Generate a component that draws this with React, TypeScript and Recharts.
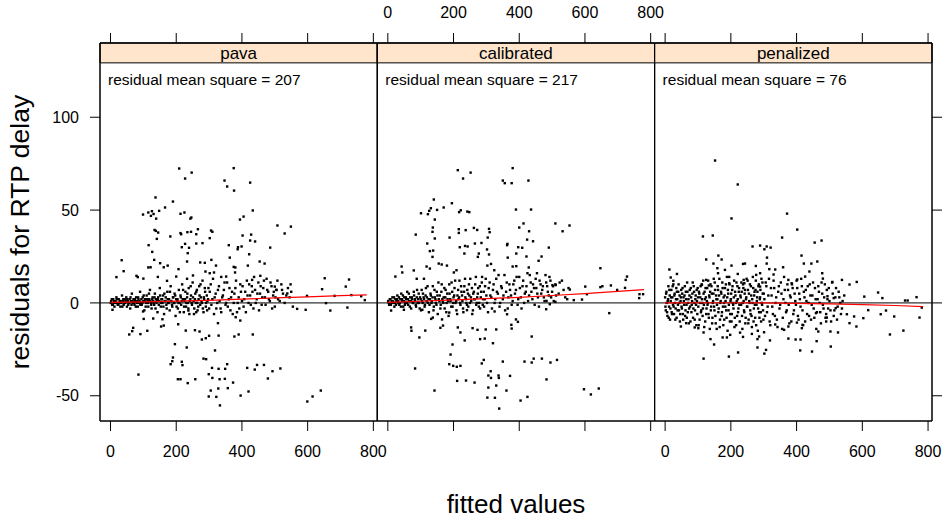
import React from 'react';
import { ScatterChart, Scatter, XAxis, YAxis, ReferenceLine, ReferenceArea } from 'recharts';

const W = 946;
const H = 523;
const X_DOMAIN: [number, number] = [-32, 812];
const Y_DOMAIN: [number, number] = [-63.6, 140];
const STRIP_BOTTOM = 129.3;
const xTicks = [0, 200, 400, 600, 800];
const yTicks = [-50, 0, 50, 100];

type Pt = [number, number];

const panelNames = ['pava', 'calibrated', 'penalized'];
const rmsLabels = ['residual mean square = 207', 'residual mean square = 217', 'residual mean square = 76'];

const pavaPoints: Pt[] = [
  [209, 72.4], [247, 70.2], [227, 67.0], [375, 72.6], [347, 65.9], [355, 62.7], [376, 60.5], [425, 64.8],
  [137, 56.8], [190, 54.6], [166, 51.4], [99, 47.6], [115, 48.7], [126, 49.4], [123, 46.9], [131, 47.9],
  [139, 45.4], [148, 49.6], [213, 48.0], [225, 48.7], [243, 45.4], [246, 46.0], [433, 49.8], [405, 46.5],
  [394, 44.9], [508, 41.7], [549, 41.1], [530, 37.4], [134, 39.3], [138, 38.8], [145, 37.9], [141, 34.5],
  [182, 35.8], [213, 37.6], [215, 37.0], [234, 38.1], [245, 38.3], [266, 39.7], [306, 39.0], [310, 38.3],
  [261, 37.0], [302, 34.9], [402, 36.3], [428, 36.8], [425, 33.6], [440, 33.1], [280, 32.2], [261, 32.0],
  [227, 31.8], [217, 30.0], [239, 29.7], [116, 31.1], [127, 27.5], [133, 23.2], [122, 19.2], [115, 19.1],
  [151, 21.4], [162, 19.2], [174, 20.1], [207, 18.2], [233, 22.3], [235, 26.8], [273, 21.8], [287, 21.6],
  [307, 23.2], [321, 20.1], [360, 31.1], [363, 24.4], [387, 28.9], [388, 30.0], [399, 30.4], [422, 26.2],
  [486, 29.8], [454, 22.3], [469, 21.2], [418, 20.1], [375, 19.4], [380, 19.1], [34, 23.0], [40, 17.1],
  [18, 13.9], [79, 14.6], [83, 13.9], [100, 13.1], [144, 14.0], [172, 11.9], [200, 14.2], [233, 13.0],
  [251, 14.8], [289, 16.9], [302, 16.0], [315, 16.4], [337, 14.0], [352, 14.2], [379, 16.4], [431, 12.4],
  [456, 14.6], [652, 13.3], [726, 12.6], [716, 8.8], [644, 7.4], [538, 5.1], [598, 3.8], [682, 3.8],
  [733, 4.2], [763, 3.6], [774, 1.5], [500, 8.8], [505, 7.0],
  [57, -17.0], [69, -13.4], [66, -15.2], [91, -16.8], [112, -15.0], [85, -38.6], [101, -8.6], [130, -8.4],
  [154, -12.7], [162, -12.2], [196, -22.2], [206, -11.5], [229, -14.9], [232, -24.0], [190, -29.4], [188, -31.4],
  [183, -33.0], [217, -31.7], [219, -33.5], [205, -41.1], [213, -41.1], [235, -43.2], [258, -41.1], [257, -14.7],
  [271, -15.4], [278, -19.7], [290, -19.0], [300, -17.7], [283, -30.0], [291, -30.3], [318, -25.6], [329, -17.6],
  [299, -38.4], [310, -40.4], [309, -35.0], [329, -35.5], [349, -35.5], [355, -33.0], [332, -41.1], [348, -40.9],
  [305, -47.2], [299, -50.4], [322, -50.6], [328, -46.1], [357, -45.9], [373, -42.9], [333, -55.2], [396, -49.9],
  [420, -47.7], [377, -18.1], [390, -17.0], [433, -17.0], [416, -35.0], [439, -35.9], [446, -33.4], [467, -33.4],
  [493, -36.8], [479, -40.7], [517, -35.3], [599, -53.1], [615, -50.4], [640, -47.2], [381, -7.7], [395, -9.5],
  [327, -10.9], [158, -8.8], [99, -4.6], [237, -4.1], [261, -5.0], [568, -3.2], [594, -3.7], [669, -4.1],
  [721, -2.5], [656, -0.1], [6, -3.7],
];

const pavaBand: Pt[] = [
  [2, 1], [5, -1], [8, 2], [10, 0], [12, -2], [15, 1], [18, 3], [20, 0], [22, -1], [25, 2], [28, 1], [30, -2],
  [33, 0], [35, 4], [38, 1], [40, -1], [43, 2], [45, 0], [48, 3], [50, -2], [53, 1], [55, 0], [58, 2], [60, -3],
  [63, 1], [65, 5], [68, 0], [70, 2], [73, -1], [75, 1], [78, 3], [80, 0], [83, -2], [85, 2], [88, 1], [90, 6],
  [93, 0], [95, -1], [98, 3], [100, 1], [103, -4], [105, 2], [108, 0], [110, 4], [113, 1], [115, -2], [118, 2],
  [120, 7], [123, 0], [125, -3], [128, 3], [130, 1], [133, -1], [135, 5], [138, 2], [140, 0], [143, -5], [145, 3],
  [148, 1], [150, 8], [153, -2], [155, 2], [158, 0], [160, 4], [163, -6], [165, 1], [168, 3], [170, -1], [173, 6],
  [175, 0], [178, 2], [180, -4], [183, 9], [185, 1], [188, -2], [190, 3], [193, 0], [195, 5], [198, -7], [200, 2],
  [203, 1], [205, -3], [208, 7], [210, 0], [213, 4], [215, -1], [218, 10], [220, 2], [223, -5], [225, 1], [228, 6],
  [230, -2], [233, 3], [235, 0], [238, 8], [240, -6], [243, 2], [245, 4], [248, -1], [250, 11], [253, 1], [255, -3],
  [258, 5], [260, 0], [263, 7], [265, -4], [268, 2], [270, 9], [273, -1], [275, 3], [278, 0], [280, 12], [283, -5],
  [285, 2], [288, 6], [290, -2], [293, 4], [295, 1], [298, 8], [300, -3], [305, 10], [310, 2], [315, -6], [320, 5],
  [325, 0], [330, 9], [335, -3], [340, 3], [345, 7], [350, -1], [355, 11], [360, 2], [365, -4], [370, 6], [375, 0],
  [380, 8], [385, -5], [390, 3], [395, 10], [400, 1], [405, -2], [410, 6], [415, 12], [420, 0], [425, 4], [430, 9],
  [435, -3], [440, 7], [445, 2], [450, 11], [455, 5], [460, -1], [465, 8], [470, 3], [475, 13], [480, 6], [485, 1],
  [490, 9], [495, 4], [500, -2], [505, 7], [510, 2], [520, 10], [525, 5], [530, 0], [540, 8], [545, 3], [550, 6],
  [1, 0], [4, 2], [7, -1], [11, 1], [16, 0], [19, 2], [24, -1], [27, 0], [31, 1], [36, -2], [39, 2], [42, 0],
  [46, 1], [51, 2], [54, -1], [57, 0], [61, 3], [64, -1], [67, 1], [71, 0], [74, 2], [77, -2], [81, 1], [84, 3],
  [87, 0], [91, -1], [94, 2], [97, 0], [101, 4], [104, 1], [107, -2], [111, 2], [114, 0], [117, 5], [121, 1],
  [124, -1], [127, 2], [131, 0], [134, 3], [137, -3], [141, 1], [144, 2], [147, -1], [151, 4], [154, 0], [157, 2],
  [161, -2], [164, 5], [167, 1], [171, -3], [174, 2], [177, 0], [181, 6], [184, 1], [187, -1], [191, 3], [194, 0],
  [197, 4], [201, -2], [204, 2], [207, 0], [211, -5], [214, 3], [217, 1], [221, 7], [224, -2], [227, 2], [231, 0],
  [234, 5], [237, -3], [241, 1], [244, 9], [247, 0], [251, 3], [254, -6], [257, 2], [261, 6], [264, 0], [267, -2],
  [271, 4], [274, 10], [277, 1], [281, -3], [284, 3], [287, 8], [291, 0], [294, -4], [297, 2], [302, 6], [307, -1],
  [312, 13], [317, 3], [322, -3], [327, 7], [332, 1], [337, -5], [342, 4], [347, 11], [352, 0], [357, -2], [362, 8],
  [367, 3], [372, -6], [377, 5], [382, 12], [387, 0], [392, -3], [397, 6], [402, 9], [407, 2], [412, -5], [417, 4],
  [422, 10], [427, -1], [432, 6], [437, 14], [442, 0], [447, 5], [452, -4], [457, 9], [462, 3], [467, 12], [472, -1],
  [477, 7], [482, 2], [487, 11], [492, -3], [497, 6], [502, 3], [508, 12], [515, 1], [522, 7], [535, 4], [548, 10],
  [555, -2],
];

const calibratedPoints: Pt[] = [
  [213, 71.5], [252, 70.2], [229, 67.0], [380, 72.6], [350, 65.9], [356, 64.5], [377, 64.5], [428, 65.9],
  [140, 55.7], [195, 53.7], [170, 51.4], [101, 48.3], [122, 47.8], [126, 49.6], [131, 51.0], [150, 50.1],
  [143, 44.9], [222, 49.9], [217, 48.9], [242, 49.2], [248, 48.9], [390, 50.3], [436, 50.3], [413, 42.8],
  [400, 40.6], [510, 42.8], [553, 41.7], [532, 38.6], [85, 36.8], [137, 40.6], [136, 38.3], [143, 34.7],
  [188, 35.2], [216, 39.7], [216, 37.7], [237, 39.2], [262, 40.4], [272, 39.3], [308, 39.9], [310, 38.1],
  [304, 35.2], [430, 38.6], [424, 34.1], [442, 33.2], [285, 32.3], [265, 32.0], [235, 30.7], [219, 30.0],
  [243, 30.4], [120, 32.0], [128, 27.9], [138, 28.2], [136, 24.8], [155, 21.2], [164, 20.7], [180, 20.1],
  [128, 18.5], [118, 19.6], [233, 26.6], [274, 24.8], [277, 26.6], [302, 28.8], [308, 26.1], [364, 31.8],
  [363, 31.1], [365, 24.4], [391, 26.6], [397, 30.0], [409, 29.7], [422, 25.0], [468, 25.0], [459, 22.7],
  [490, 29.8], [380, 19.6], [391, 19.8], [429, 19.1], [454, 16.0], [303, 20.1], [314, 21.0], [324, 17.6],
  [209, 17.6], [201, 16.4], [42, 19.6], [44, 16.4], [23, 14.2], [79, 17.5], [88, 13.0], [110, 13.0],
  [647, 18.7], [728, 14.2], [724, 12.4], [679, 9.4], [653, 9.0], [647, 8.5], [601, 8.8], [554, 7.2],
  [501, 9.6], [511, 9.6], [698, 7.0], [722, 8.1], [766, 4.7], [777, 4.7], [765, 2.6], [566, 1.5],
  [591, 1.8], [606, 4.7], [483, 1.1], [493, -0.7],
  [71, -13.2], [72, -15.0], [96, -18.6], [114, -14.9], [83, -35.3], [142, -47.2], [137, -7.9], [132, -8.6],
  [160, -13.4], [165, -8.9], [168, -12.2], [187, -5.2], [197, -22.4], [191, -27.8], [187, -33.0], [199, -33.9],
  [210, -34.4], [221, -33.9], [211, -42.0], [238, -41.8], [264, -42.9], [213, -13.2], [221, -15.9], [234, -20.2],
  [258, -13.6], [273, -14.5], [298, -14.3], [281, -19.5], [295, -19.2], [292, -30.7], [286, -32.6], [320, -21.7],
  [330, -14.3], [306, -39.1], [313, -36.8], [314, -40.4], [337, -39.1], [338, -40.4], [350, -31.6], [372, -39.3],
  [361, -47.2], [330, -44.5], [306, -45.6], [303, -51.0], [326, -51.1], [339, -56.9], [404, -52.6], [425, -50.6],
  [376, -11.8], [377, -13.8], [390, -8.9], [396, -10.2], [363, -6.1], [438, -18.1], [416, -31.6], [438, -32.1],
  [444, -30.0], [469, -30.0], [495, -32.1], [515, -30.7], [483, -41.2], [597, -46.5], [618, -49.3], [642, -46.1],
  [674, -5.5], [482, -3.4], [510, 0.6], [10, -4.1], [49, -3.7], [105, -3.7], [241, -3.9], [325, -4.6],
];

const calibratedBand: Pt[] = [
  [3, 0], [6, 2], [9, -1], [12, 1], [14, 3], [17, 0], [20, -2], [23, 2], [26, 1], [29, 4], [32, 0], [35, -1],
  [38, 2], [41, 5], [44, 1], [47, -2], [50, 3], [53, 0], [56, 2], [59, 6], [62, -1], [65, 1], [68, 3], [71, -3],
  [74, 2], [77, 0], [80, 4], [83, 1], [86, -2], [89, 7], [92, 2], [95, 0], [98, 3], [101, -4], [104, 1], [107, 5],
  [110, 2], [113, -1], [116, 8], [119, 3], [122, 0], [125, -5], [128, 2], [131, 4], [134, 1], [137, 9], [140, -2],
  [143, 3], [146, 0], [149, 6], [152, -6], [155, 2], [158, 4], [161, -1], [164, 10], [167, 1], [170, 3], [173, -3],
  [176, 7], [179, 0], [182, 2], [185, -7], [188, 5], [191, 1], [194, 11], [197, -2], [200, 3], [203, 8], [206, 0],
  [209, -4], [212, 4], [215, 2], [218, 12], [221, -1], [224, 6], [227, 1], [230, -5], [233, 9], [236, 3], [239, 0],
  [242, 7], [245, -2], [248, 4], [251, 13], [254, 1], [257, -6], [260, 5], [263, 2], [266, 10], [269, -1], [272, 3],
  [275, 8], [278, 0], [281, -3], [284, 6], [287, 14], [290, 2], [293, -2], [296, 9], [300, 4], [305, -5], [310, 11],
  [315, 3], [320, 7], [325, 0], [330, 13], [335, 5], [340, -2], [345, 9], [350, 2], [355, 15], [360, 6], [365, -3],
  [370, 10], [375, 4], [380, 1], [385, 12], [390, 7], [395, -1], [400, 14], [405, 3], [410, 9], [415, 0], [420, 6],
  [425, 16], [430, 4], [435, 11], [440, 2], [445, 8], [450, 13], [455, 5], [460, -2], [465, 10], [470, 7], [475, 3],
  [480, 15], [485, 9], [490, 4], [495, 12], [500, 6], [505, 1], [510, 10], [520, 5], [530, 12], [540, 3], [550, 8],
  [1, 1], [4, -1], [8, 2], [11, 0], [15, 1], [19, 3], [22, 0], [25, -1], [28, 2], [31, 1], [34, 3], [37, 0],
  [40, -2], [43, 2], [46, 4], [49, 1], [52, -1], [55, 3], [58, 0], [61, 2], [64, 5], [67, -2], [70, 1], [73, 3],
  [76, 0], [79, 6], [82, 2], [85, -1], [88, 3], [91, 0], [94, 5], [97, -3], [100, 2], [103, 7], [106, 0], [109, 3],
  [112, -2], [115, 4], [118, 1], [121, 9], [124, 2], [127, -1], [130, 5], [133, 0], [136, 3], [139, -4], [142, 7],
  [145, 2], [148, -1], [151, 4], [154, 11], [157, 1], [160, -3], [163, 6], [166, 2], [169, 0], [172, 8], [175, 3],
  [178, -5], [181, 5], [184, 1], [187, 10], [190, 2], [193, -2], [196, 6], [199, 0], [202, 4], [205, 12], [208, 1],
  [211, -6], [214, 7], [217, 3], [220, 0], [223, 9], [226, 4], [229, -3], [232, 6], [235, 13], [238, 2], [241, -1],
  [244, 5], [247, 10], [250, 0], [253, 3], [256, 8], [259, -4], [262, 6], [265, 2], [268, 14], [271, 0], [274, 5],
  [277, -2], [280, 9], [283, 3], [286, 11], [289, -1], [292, 6], [295, 2], [298, 13], [302, 0], [307, 8], [312, 4],
  [317, -3], [322, 10], [327, 2], [332, 6], [337, 15], [342, 0], [347, 8], [352, 4], [357, -4], [362, 11], [367, 3],
  [372, 7], [377, -1], [382, 10], [387, 5], [392, 14], [397, 2], [402, 8], [407, -3], [412, 12], [417, 5], [422, 9],
  [427, 1], [432, 15], [437, 6], [442, 10], [447, -1], [452, 8], [457, 3], [462, 12], [467, 5], [472, 9], [477, 1],
  [482, 11], [487, 6], [492, 14], [497, 3], [503, 9], [512, 4], [523, 11], [535, 7], [546, 2],
];

const penalizedPoints: Pt[] = [
  [152, 76.7], [221, 63.8], [202, 45.5], [371, 48.1], [402, 39.5], [115, 35.8], [145, 36.3], [356, 35.2],
  [455, 32.5], [476, 33.6], [266, 30.4], [289, 30.9], [302, 28.9], [309, 30.4], [321, 29.8], [310, 24.4],
  [415, 25.5], [125, 23.4], [162, 25.5], [172, 23.4], [147, 21.2], [202, 20.1], [237, 21.0], [243, 21.2],
  [276, 19.9], [309, 21.2], [359, 19.2], [422, 21.2], [445, 21.2], [463, 22.3], [159, 18.7], [182, 17.8],
  [161, 16.0], [221, 15.6], [277, 15.1], [289, 16.0], [317, 18.2], [335, 18.0], [330, 15.3], [439, 16.9],
  [426, 14.2], [478, 16.0], [480, 13.1], [13, 18.0], [17, 13.7], [36, 15.6], [25, 11.9], [112, 9.7],
  [125, 12.4], [133, 9.4], [195, 10.6], [239, 12.4], [241, 10.6], [289, 8.8], [375, 12.4], [402, 12.6],
  [385, 10.6], [509, 11.3], [538, 12.4], [561, 9.9], [583, 11.3], [606, 3.4], [648, 5.6], [661, 2.6],
  [765, 3.1], [738, 1.3], [730, 1.3], [494, 3.6], [513, 2.6],
  [117, -30.0], [194, -28.9], [222, -26.7], [281, -24.0], [302, -27.3], [307, -25.3], [411, -25.6], [447, -26.2],
  [504, -23.5], [461, -20.6], [319, -20.2], [397, -19.7], [412, -19.7], [375, -19.2], [149, -22.4], [175, -18.6],
  [188, -18.6], [198, -17.2], [138, -19.5], [117, -15.9], [101, -13.6], [90, -13.2], [64, -10.9], [48, -12.7],
  [237, -18.3], [264, -16.7], [281, -19.5], [286, -18.1], [301, -15.8], [466, -15.4], [526, -15.9], [503, -15.4],
  [684, -17.0], [725, -14.9], [582, -12.7], [561, -10.9], [575, -7.3], [553, -6.1], [603, -8.2], [618, -3.9],
  [656, -6.1], [672, -4.1], [697, -7.3], [774, -7.9], [781, -2.5], [416, -13.6], [418, -11.8], [401, -10.6],
  [375, -12.7], [362, -14.5], [335, -11.6], [490, -10.0], [492, -7.9], [459, -5.5], [519, -2.8],
];

const penalizedBand: Pt[] = [
  [0, 3], [2, -4], [4, 6], [5, 0], [7, -7], [9, 2], [10, 9], [12, -2], [14, 4], [15, -9], [17, 1], [19, 7],
  [20, -5], [22, 3], [24, -1], [25, 10], [27, -6], [29, 5], [30, 0], [32, -3], [34, 8], [35, -8], [37, 2], [39, -1],
  [40, 6], [42, -4], [44, 4], [45, -10], [47, 1], [49, 7], [50, -2],
  [52, 5], [54, -6], [56, 3], [58, -1], [60, 9], [62, -4], [64, 2], [66, -8], [68, 6], [70, 0], [72, -11], [74, 4],
  [76, -2], [78, 8], [80, -5], [82, 1], [84, 11], [86, -3], [88, 6], [90, -9], [92, 2], [94, -1], [96, 7], [98, -6],
  [100, 3], [102, -12], [104, 5], [106, 0], [108, 9], [110, -4], [112, 2], [114, -7], [116, 12], [118, -1], [120, 6],
  [122, -10], [124, 3], [126, -3], [128, 8], [130, 0], [132, -6], [134, 4], [136, -14], [138, 10], [140, -2], [142, 5],
  [144, -8], [146, 1], [148, 13], [150, -4],
  [152, 7], [154, -11], [156, 2], [158, -1], [160, 9], [162, -5], [164, 4], [166, -13], [168, 0], [170, 6], [172, -7],
  [174, 11], [176, -2], [178, 3], [180, -9], [182, 8], [184, 1], [186, -4], [188, 14], [190, -15], [192, 5], [194, -1],
  [196, 10], [198, -6], [200, 2], [202, -10], [204, 7], [206, 0], [208, -3], [210, 12], [212, -8], [214, 4], [216, -12],
  [218, 1], [220, 9], [222, -5], [224, 6], [226, -1], [228, -16], [230, 3], [232, 11], [234, -7], [236, 0], [238, 8],
  [240, -4], [242, 5], [244, -11], [246, 2], [248, 13], [250, -2], [252, 7], [254, -9], [256, 1], [258, 10], [260, -6],
  [262, 4], [264, -13], [266, 0], [268, 8], [270, -3], [272, 6], [274, -8], [276, 12], [278, -1], [280, 3], [282, -15],
  [284, 9], [286, -5], [288, 2], [290, 7], [292, -10], [294, 0], [296, 11], [298, -4], [300, 5],
  [304, -7], [308, 9], [312, -2], [316, 13], [320, -12], [324, 4], [328, -6], [332, 8], [336, 0], [340, -9], [344, 6],
  [348, -3], [352, 11], [356, -14], [360, 2], [364, 7], [368, -5], [372, 10], [376, -1], [380, 4], [384, -10], [388, 8],
  [392, -4], [396, 1], [400, 12], [404, -7], [408, 5], [412, -2], [416, 9], [420, -12], [424, 3], [428, 7], [432, -6],
  [436, 0], [440, 10], [444, -9], [448, 4], [452, -3], [456, 8], [460, -14], [464, 2], [468, 6], [472, -5], [476, 11],
  [480, -1], [484, 3], [488, -8], [492, 7], [496, -3], [500, 1], [505, -10], [510, 5], [515, -4], [520, 8], [525, -2],
  [530, 3], [535, -6], [540, 1],
  [1, -2], [3, 5], [6, -5], [8, 1], [11, -8], [13, 7], [16, -3], [18, 3], [21, -6], [23, 9], [26, -2], [28, 4],
  [31, -9], [33, 2], [36, 6], [38, -4], [41, 10], [43, 0], [46, -6], [48, 3], [51, -3], [53, 8], [55, -9], [57, 1],
  [59, 4], [61, -7], [63, 6], [65, -1], [67, 11], [69, -5], [71, 2], [73, -3], [75, 7], [77, -10], [79, 3], [81, -1],
  [83, 5], [85, -8], [87, 9], [89, 0], [91, -4], [93, 4], [95, -12], [97, 1], [99, 8],
  [101, -2], [103, 6], [105, -9], [107, 3], [109, -5], [111, 10], [113, 0], [115, -3], [117, 5], [119, -13], [121, 2],
  [123, 8], [125, -6], [127, 1], [129, -1], [131, 12], [133, -8], [135, 3], [137, 6], [139, -4], [141, 9], [143, -11],
  [145, 0], [147, 5], [149, -2], [151, 11], [153, -7], [155, 4], [157, -14], [159, 2], [161, 7], [163, -3], [165, 13],
  [167, -9], [169, 1], [171, 5], [173, -5], [175, 8], [177, -12], [179, 0], [181, 4], [183, -2], [185, 10], [187, -8],
  [189, 3], [191, 7], [193, -4], [195, 14], [197, -10], [199, 1], [201, 5], [203, -6], [205, 9], [207, -1], [209, 3],
  [211, -13], [213, 6], [215, 0], [217, 11], [219, -7], [221, 2], [223, -3], [225, 8], [227, -10], [229, 4], [231, -1],
  [233, 6], [235, -14], [237, 10], [239, 1], [241, -5], [243, 7], [245, -8], [247, 3], [249, -2], [251, 12], [253, -11],
  [255, 5], [257, 0], [259, -4], [261, 9], [263, -7], [265, 2], [267, 14], [269, -10], [271, 4], [273, -1], [275, 7],
  [277, -12], [279, 1], [281, 6], [283, -3], [285, 10], [287, -8], [289, 3], [291, -5], [293, 13], [295, -1], [297, 5],
  [299, -9],
  [302, 2], [306, 11], [310, -5], [314, 4], [318, -10], [322, 8], [326, -2], [330, 12], [334, -7], [338, 3], [342, -13],
  [346, 9], [350, -1], [354, 5], [358, -8], [362, 14], [366, 0], [370, -4], [374, 7], [378, -11], [382, 3], [386, 10],
  [390, -6], [394, 5], [398, -1], [402, 8], [406, -9], [410, 2], [414, 13], [418, -4], [422, 6], [426, -10], [430, 1],
  [434, 9], [438, -7], [442, 4], [446, -1], [450, 11], [454, -8], [458, 2], [462, -5], [466, 9], [470, 0], [474, -11],
  [478, 5], [482, -3], [486, 10], [490, -6], [494, 2], [498, 8], [503, -4], [508, 11], [513, -7], [518, 3], [523, -9],
  [528, 6], [533, 0], [538, -3], [545, 4],
];

// smooth (loess) curves
const pavaFit: Pt[] = [[0, 0.3], [100, 0.6], [200, 1.0], [300, 1.4], [400, 2.0], [500, 2.7], [600, 3.3], [700, 3.9], [780, 4.3]];
const calibratedFit: Pt[] = [[0, 0.3], [100, 0.9], [200, 1.6], [300, 2.3], [400, 3.0], [500, 4.0], [600, 5.0], [700, 6.2], [780, 7.2]];
const penalizedFit: Pt[] = [[0, 0.0], [100, 0.1], [200, 0.1], [300, 0.0], [400, -0.2], [500, -0.5], [600, -0.9], [700, -1.4], [785, -2.0]];

const PLOT_TOP = 43;
const PLOT_BOTTOM = 421;
const AX = 20;

const Dot = (p: any) => (
  <rect x={p.cx - 1.2} y={p.cy - 1.2} width={2.4} height={2.4} fill="#000" />
);

const blank = () => '';

interface PanelProps {
  left: number;
  right: number;
  name: string;
  rms: string;
  points: Pt[];
  fit: Pt[];
  bottomLabels: boolean;
  topLabels: boolean;
  leftTicks: boolean;
  rightTicks: boolean;
}

const Panel: React.FC<PanelProps> = ({ left, right, name, rms, points, fit, bottomLabels, topLabels, leftTicks, rightTicks }) => {
  const data = points.map(([x, y]) => ({ x, y }));
  const fitData = fit.map(([x, y]) => ({ x, y }));
  const tickStyle = { fill: '#000', fontSize: 16 };
  return (
    <div style={{ position: 'absolute', left: 0, top: 0 }}>
      <ScatterChart
        width={W}
        height={H}
        margin={{ top: PLOT_TOP - AX, bottom: H - PLOT_BOTTOM - AX, left: left - AX, right: W - right - AX }}
      >
        <XAxis xAxisId="b" dataKey="x" type="number" orientation="bottom" domain={X_DOMAIN} ticks={xTicks}
          allowDataOverflow height={AX} interval={0} tickSize={10} tickMargin={15} stroke="#000"
          tick={tickStyle} tickFormatter={bottomLabels ? undefined : blank} />
        <XAxis xAxisId="t" dataKey="x" type="number" orientation="top" domain={X_DOMAIN} ticks={xTicks}
          allowDataOverflow height={AX} interval={0} tickSize={10} tickMargin={15} stroke="#000"
          tick={tickStyle} tickFormatter={topLabels ? undefined : blank} />
        <YAxis yAxisId="l" dataKey="y" type="number" orientation="left" domain={Y_DOMAIN} ticks={yTicks}
          allowDataOverflow width={AX} interval={0} tickSize={10} tickMargin={11} stroke="#000"
          tickLine={leftTicks} tick={tickStyle} tickFormatter={leftTicks ? undefined : blank} />
        <YAxis yAxisId="r" dataKey="y" type="number" orientation="right" domain={Y_DOMAIN} ticks={yTicks}
          allowDataOverflow width={AX} interval={0} tickSize={10} stroke="#000"
          tickLine={rightTicks} tick={tickStyle} tickFormatter={blank} />
        <ReferenceArea xAxisId="b" yAxisId="l" x1={X_DOMAIN[0]} x2={X_DOMAIN[1]} y1={STRIP_BOTTOM} y2={Y_DOMAIN[1]}
          fill="#ffe5cc" fillOpacity={1} stroke="#000" strokeWidth={1} ifOverflow="visible"
          label={{ value: name, position: 'center', fill: '#000', fontSize: 17 }} />
        <ReferenceArea xAxisId="b" yAxisId="l" x1={X_DOMAIN[0]} x2={X_DOMAIN[1]} y1={100} y2={127.6}
          fill="none" stroke="none" ifOverflow="visible"
          label={{ value: rms, position: 'insideTopLeft', offset: 8, fill: '#000', fontSize: 15.5 }} />
        <ReferenceLine xAxisId="b" yAxisId="l" y={0} stroke="#000" strokeWidth={1} />
        <Scatter xAxisId="b" yAxisId="l" data={data} shape={Dot} isAnimationActive={false} />
        <Scatter xAxisId="b" yAxisId="l" data={fitData} line={{ stroke: '#ff0000', strokeWidth: 1.2 }}
          shape={() => <g />} isAnimationActive={false} />
        <ReferenceArea xAxisId="b" yAxisId="l" x1={X_DOMAIN[0]} x2={X_DOMAIN[1]} y1={Y_DOMAIN[0]} y2={Y_DOMAIN[1]}
          fill="none" stroke="#000" strokeWidth={1} ifOverflow="visible" />
      </ScatterChart>
    </div>
  );
};

export default function App() {
  const edges = [100, 377.3, 654.6, 932];
  const pointSets = [
    [...pavaPoints, ...pavaBand],
    [...calibratedPoints, ...calibratedBand],
    [...penalizedPoints, ...penalizedBand],
  ];
  const fits = [pavaFit, calibratedFit, penalizedFit];
  return (
    <div style={{ position: 'absolute', left: 0, top: 0, width: W, height: H, background: '#fff', overflow: 'hidden',
      fontFamily: '"Liberation Sans", Arial, Helvetica, sans-serif' }}>
      {panelNames.map((name, i) => (
        <Panel key={name} left={edges[i]} right={edges[i + 1]} name={name} rms={rmsLabels[i]}
          points={pointSets[i]} fit={fits[i]}
          bottomLabels={i !== 1} topLabels={i === 1} leftTicks={i === 0} rightTicks={i === 2} />
      ))}
      <svg width={W} height={H} style={{ position: 'absolute', left: 0, top: 0, pointerEvents: 'none' }}>
        <text x={516} y={513} textAnchor="middle" fontSize={26} fill="#000">fitted values</text>
        <text transform="translate(29,232) rotate(-90)" textAnchor="middle" fontSize={26.5} fill="#000">
          residuals for RTP delay
        </text>
      </svg>
    </div>
  );
}
